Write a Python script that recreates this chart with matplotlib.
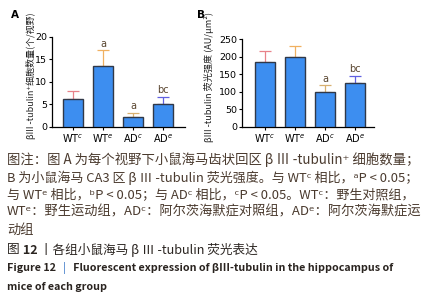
import numpy as np
import matplotlib.pyplot as plt

plt.rcParams['font.family'] = ['Noto Sans CJK SC', 'DejaVu Sans']
plt.rcParams['mathtext.fontset'] = 'dejavusans'
plt.rcParams['axes.linewidth'] = 0.9

# data
groups = ['WT$^c$', 'WT$^e$', 'AD$^c$', 'AD$^e$']
count_mean = [6.3, 13.6, 2.1, 5.0]
count_err = [1.6, 3.4, 1.0, 1.7]
count_sig = ['', 'a', 'a', 'bc']
inten_mean = [185, 198, 100, 124]
inten_err = [30, 32, 18, 21]
inten_sig = ['', '', 'a', 'bc']
err_colors = ['#e8828a', '#f0b060', '#d8b070', '#6060e0']

bar_color = '#3d8ef0'
edge_color = '#303848'
txt_color = '#4a3a2e'

W, H = 422, 300
fig = plt.figure(figsize=(W / 100, H / 100), dpi=100)


def panel(ax, means, errs, sigs, ymax, step, xlim, off):
    x = np.arange(len(means))
    ax.bar(x, means, width=0.67, color=bar_color, edgecolor=edge_color,
           linewidth=1.0, zorder=3)
    for i in x:
        ax.errorbar(i, means[i], yerr=[[0], [errs[i]]], fmt='none',
                    ecolor=err_colors[i], elinewidth=0.9, capsize=4,
                    capthick=0.9, zorder=2)
        if sigs[i]:
            ax.text(i, means[i] + errs[i] + off, sigs[i], ha='center',
                    va='bottom', fontsize=7, family='DejaVu Sans',
                    color='#5a4630')
    ax.set_xlim(*xlim)
    ax.set_ylim(0, ymax)
    ax.set_yticks(np.arange(0, ymax + 1, step))
    ax.set_xticks(x)
    ax.set_xticklabels(groups, fontsize=7, family='DejaVu Sans')
    ax.tick_params(axis='y', labelsize=6.8, length=2.5, width=0.8, pad=1)
    ax.tick_params(axis='x', length=2.5, width=0.8, pad=1.5)
    for lab in ax.get_yticklabels():
        lab.set_family('DejaVu Sans')
    ax.spines['top'].set_visible(False)
    ax.spines['right'].set_visible(False)


axA = fig.add_axes([0.123, 0.577, 0.315, 0.30])
panel(axA, count_mean, count_err, count_sig, 20, 5, (-0.7, 3.73), 0.4)
axB = fig.add_axes([0.573, 0.577, 0.313, 0.293])
panel(axB, inten_mean, inten_err, inten_sig, 250, 50, (-0.77, 3.63), 5)

# y labels as figure text, placed where the reference has them
ylab_A = fig.text(31 / W, 1 - 76 / H, 'βIII -tubulin⁺细胞数量(个/视野)',
                  rotation=90, ha='center', va='center', fontsize=6.5,
                  color='#202020')
ylab_B = fig.text(209 / W, 1 - 77 / H, 'βIII -tubulin 荧光强度 (AU/μm²)',
                  rotation=90, ha='center', va='center', fontsize=6.5,
                  color='#202020')

fig.text(0.025, 0.94, 'A', fontsize=7.5, weight='bold', family='DejaVu Sans')
fig.text(0.468, 0.94, 'B', fontsize=7.5, weight='bold', family='DejaVu Sans')

caption = [
    '图注：图 A 为每个视野下小鼠海马齿状回区 β Ⅲ -tubulin⁺ 细胞数量；',
    'B 为小鼠海马 CA3 区 β Ⅲ -tubulin 荧光强度。与 WTᶜ 相比，ᵃP < 0.05；',
    '与 WTᵉ 相比，ᵇP < 0.05；与 ADᶜ 相比，ᶜP < 0.05。WTᶜ：野生对照组，',
    'WTᵉ：野生运动组，ADᶜ：阿尔茨海默症对照组，ADᵉ：阿尔茨海默症运',
    '动组',
]
ys = [160, 178, 195, 212, 230]
# right edge of each line in the reference, pixels (None = keep size)
right_px = [418, 417, 416, 421, None]

x0 = 7
renderer = fig.canvas.get_renderer()


def pieces_line(y, pieces, size, right=None):
    # draw a line made of differently styled pieces, side by side
    ts = [fig.text(0, 1 - y / H, s, fontsize=size, va='center', **kw)
          for s, kw in pieces]

    def place():
        x = x0
        for t in ts:
            t.set_x(x / W)
            x += t.get_window_extent(renderer).width
        return x

    if right is not None:
        for _ in range(3):
            w = place() - x0
            for t in ts:
                t.set_fontsize(t.get_fontsize() * (right - x0) / w)
    place()
    return ts


cap_sizes = []
for line, y, r in zip(caption, ys, right_px):
    size = cap_sizes[-1] if r is None else 9.2
    ts = pieces_line(y, [(line, dict(color=txt_color))], size, r)
    cap_sizes.append(ts[0].get_fontsize())

dark = '#2a2420'
pieces_line(250, [('图', dict(color=dark)),
                  (' 12', dict(color=dark, weight='bold')),
                  (' 丨各组小鼠海马 β Ⅲ -tubulin 荧光表达', dict(color=dark))],
            9.2, 258)
en = pieces_line(268, [('Figure 12', dict(color=dark, weight='bold')),
                       ('   |', dict(color='#3a78c8')),
                       ('   Fluorescent expression of βIII-tubulin in the hippocampus of',
                        dict(color=dark, weight='bold'))],
                 7.8, 393)
pieces_line(287, [('mice of each group', dict(color=dark, weight='bold'))],
            en[0].get_fontsize())

# fit the y labels' length to the reference
for _ in range(3):
    for t, length in [(ylab_A, 126), (ylab_B, 130)]:
        h = t.get_window_extent(renderer).height
        t.set_fontsize(t.get_fontsize() * length / h)

plt.savefig('out.png', dpi=100)
